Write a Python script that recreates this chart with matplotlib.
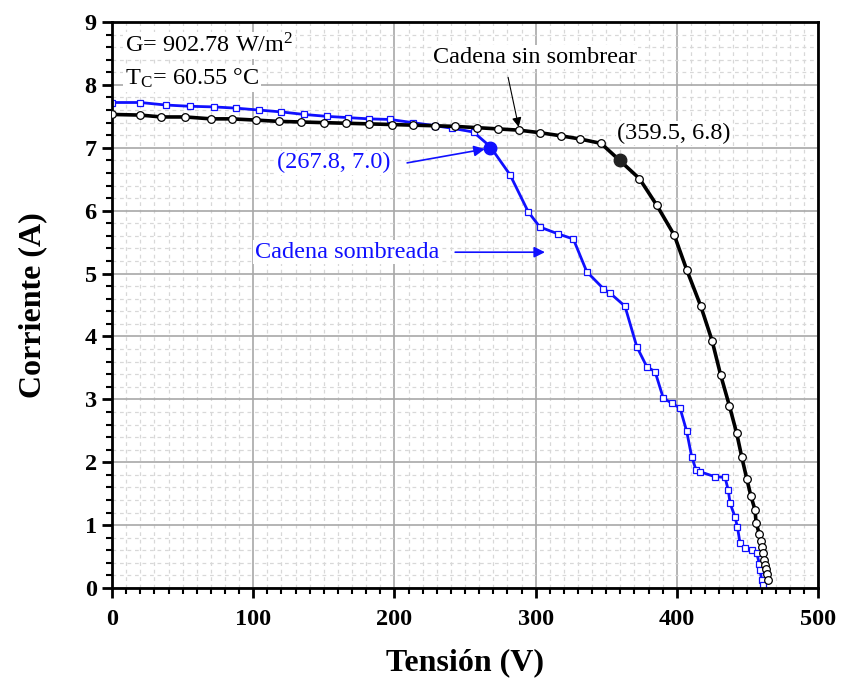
import matplotlib
matplotlib.use('Agg')
import matplotlib.pyplot as plt
from matplotlib.ticker import MultipleLocator

plt.rcParams['font.family'] = ['Liberation Serif', 'DejaVu Serif']
plt.rcParams['mathtext.fontset'] = 'stix'

# Cadena sin sombrear (V, A)
v_black = [0, 20, 35, 52, 70, 85, 102, 118, 134, 150, 166, 182, 198, 213, 229,
           243, 258.5, 273.6, 288.3, 303, 318, 331.4, 346.3, 359.5, 373.5, 385.7,
           398.2, 407, 417, 425, 431, 437.2, 442.4, 446, 449.5, 452.5, 455.4,
           456.1, 458.4, 459.4, 460.1, 461.3, 461.8, 462.5, 463.2, 463.7, 464.8]
i_black = [7.53, 7.52, 7.49, 7.49, 7.46, 7.46, 7.44, 7.42, 7.41, 7.40, 7.39, 7.38,
           7.37, 7.36, 7.35, 7.34, 7.32, 7.30, 7.28, 7.24, 7.19, 7.14, 7.07, 6.80,
           6.51, 6.09, 5.61, 5.06, 4.48, 3.93, 3.39, 2.90, 2.46, 2.08, 1.74, 1.46,
           1.24, 1.04, 0.86, 0.75, 0.65, 0.55, 0.45, 0.37, 0.30, 0.23, 0.13]

# Cadena sombreada (V, A)
v_blue = [0, 20, 38, 55, 72, 88, 104, 120, 136, 152, 167, 182, 197, 213, 229, 241,
          256, 267.8, 281.9, 294.8, 303, 316, 326.7, 336.2, 348, 352.7, 363.3,
          371.6, 378.7, 384.6, 390.4, 396.4, 402.3, 407, 410.5, 413.6, 416.4, 427,
          434.1, 436.4, 437.7, 441.2, 442.9, 444.8, 448.3, 453, 456.6, 458.4,
          458.9, 460.1, 461]
i_blue = [7.72, 7.72, 7.68, 7.66, 7.65, 7.63, 7.60, 7.57, 7.53, 7.50, 7.48, 7.46,
          7.45, 7.40, 7.35, 7.31, 7.25, 7.02, 6.57, 5.98, 5.74, 5.63, 5.55, 5.03,
          4.76, 4.69, 4.48, 3.84, 3.52, 3.44, 3.02, 2.94, 2.86, 2.49, 2.09, 1.88,
          1.85, 1.77, 1.76, 1.56, 1.35, 1.13, 0.97, 0.71, 0.63, 0.60, 0.55, 0.39,
          0.29, 0.13, 0.05]

mpp_black = (359.5, 6.8)
mpp_blue = (267.8, 7.0)

BLUE = '#1010ff'

fig = plt.figure(figsize=(8.41, 6.83), dpi=100)
ax = fig.add_axes([0.1332, 0.139, 0.8395, 0.8288])

# grid
ax.xaxis.set_major_locator(MultipleLocator(100))
ax.xaxis.set_minor_locator(MultipleLocator(10))
ax.yaxis.set_major_locator(MultipleLocator(1))
ax.yaxis.set_minor_locator(MultipleLocator(0.2))
ax.grid(which='major', color='#a8a8a8', lw=1.2, ls='-', zorder=0)
ax.grid(which='minor', color='#d8d8d8', lw=0.9, ls=(0, (3, 3)), zorder=0)
ax.set_axisbelow(True)

# curves
ax.plot(v_black, i_black, color='black', lw=2.6, marker='o', ms=5.5,
        mfc='white', mec='black', mew=0.9, zorder=3)
ax.plot(v_blue, i_blue, color=BLUE, lw=2.0, marker='s', ms=5,
        mfc='white', mec=BLUE, mew=0.9, zorder=2)
ax.plot(*mpp_black, marker='o', ms=9, color='#222222', zorder=4)
ax.plot(*mpp_blue, marker='o', ms=9, color=BLUE, zorder=4)

ax.set_xlim(0, 500)
ax.set_ylim(0, 9)

for s in ax.spines.values():
    s.set_linewidth(2)
ax.tick_params(which='major', direction='out', length=7, width=2,
               labelsize=17.5, pad=4)
ax.tick_params(axis='x', which='major', pad=8)
ax.tick_params(which='minor', direction='out', length=4, width=1.5)
for lab in ax.get_xticklabels() + ax.get_yticklabels():
    lab.set_fontweight('bold')

ax.set_xlabel('Tensión (V)', fontsize=23, fontweight='bold', labelpad=13)
ax.set_ylabel('Corriente (A)', fontsize=23, fontweight='bold', labelpad=27)

box = dict(facecolor='white', edgecolor='none', pad=1)
ax.text(9, 8.63, 'G= 902.78 W/m$^\\mathregular{2}$', fontsize=17.5,
        va='center', ha='left', bbox=box, zorder=5)
ax.text(9, 8.1, 'T$_\\mathregular{C}$= 60.55 °C', fontsize=17.5,
        va='center', ha='left', bbox=box, zorder=5)
ax.text(357.6, 7.23, '(359.5, 6.8)', fontsize=17.5, va='center', ha='left',
        bbox=box, zorder=5)

ax.text(299.6, 8.44, 'Cadena sin sombrear', fontsize=17.5, ha='center',
        va='center', bbox=box, zorder=5)
ax.annotate('', xy=(288, 7.33), xytext=(280.5, 8.12),
            arrowprops=dict(arrowstyle='-|>', color='black', lw=0.8,
                            shrinkA=0, shrinkB=0, mutation_scale=14))

ax.text(157, 6.76, '(267.8, 7.0)', color=BLUE, fontsize=17.5, ha='center',
        va='center', bbox=box, zorder=5)
ax.annotate('', xy=(264, 6.98), xytext=(209, 6.76),
            arrowprops=dict(arrowstyle='-|>', color=BLUE, lw=1.2,
                            shrinkA=0, shrinkB=0, mutation_scale=16))

ax.text(166.4, 5.34, 'Cadena sombreada', color=BLUE, fontsize=17.5,
        ha='center', va='center', bbox=box, zorder=5)
ax.annotate('', xy=(306.6, 5.34), xytext=(243, 5.34),
            arrowprops=dict(arrowstyle='-|>', color=BLUE, lw=1.2,
                            shrinkA=0, shrinkB=0, mutation_scale=16))

fig.savefig('out.png', dpi=100)
